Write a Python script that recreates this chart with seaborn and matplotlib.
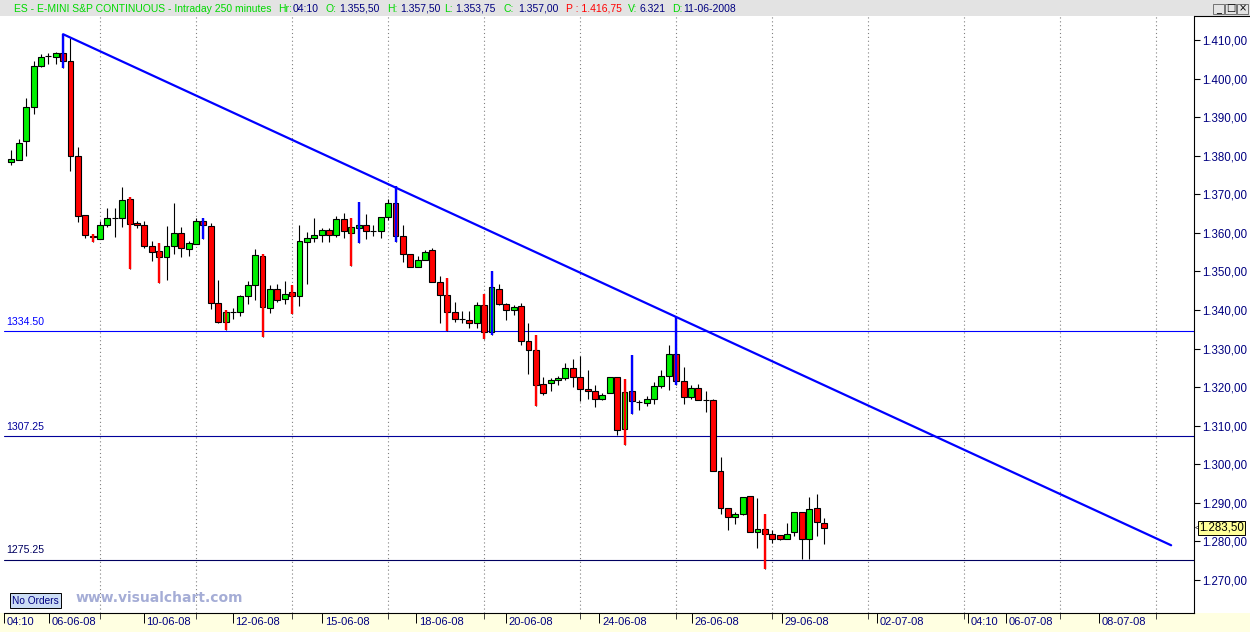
import numpy as np
import pandas as pd
import matplotlib
matplotlib.use("Agg")
import matplotlib.pyplot as plt
import seaborn as sns
from matplotlib.patches import Rectangle
from matplotlib.ticker import FuncFormatter
from matplotlib import font_manager as fm

# ---------------- data (250-minute candles, ES e-mini S&P) ----------------
opens = [1378.25, 1379.0, 1383.75, 1392.5, 1403.25, 1405.75, 1405.5, 1406.75, 1404.5, 1380.0,
         1364.5, 1359.25, 1358.5, 1362.0, 1363.75, 1363.75, 1368.75, 1362.5, 1362.0, 1356.5,
         1355.25, 1353.75, 1356.5, 1360.0, 1355.75, 1357.0, 1363.0, 1361.75, 1341.75, 1337.0,
         1339.5, 1339.5, 1343.75, 1346.5, 1354.0, 1340.5, 1345.5, 1342.75, 1344.75, 1343.75,
         1357.75, 1358.75, 1359.5, 1360.75, 1359.5, 1363.5, 1360.0, 1361.25, 1362.0, 1360.5,
         1360.5, 1364.0, 1367.75, 1359.25, 1354.5, 1351.25, 1353.0, 1355.5, 1347.25, 1344.0,
         1339.5, 1337.75, 1337.5, 1336.75, 1341.25, 1334.25, 1345.5, 1341.5, 1340.0, 1341.0,
         1332.0, 1329.75, 1320.75, 1321.0, 1321.75, 1322.25, 1325.0, 1322.5, 1319.5, 1319.0,
         1317.0, 1318.5, 1322.5, 1309.25, 1319.0, 1316.25, 1316.0, 1317.0, 1320.25, 1323.0,
         1328.5, 1321.5, 1317.5, 1319.75, 1316.75, 1316.75, 1298.25, 1288.75, 1286.25, 1287.0,
         1291.75, 1282.5, 1283.25, 1282.0, 1281.75, 1280.75, 1282.5, 1287.5, 1280.5, 1288.75,
         1284.75]
highs = [1381.5, 1384.25, 1395.0, 1404.5, 1406.25, 1406.5, 1407.0, 1411.5, 1410.5, 1382.25,
         1364.5, 1359.75, 1363.0, 1366.5, 1366.5, 1372.0, 1369.25, 1363.0, 1363.0, 1358.0,
         1357.25, 1361.75, 1367.75, 1361.5, 1358.0, 1363.75, 1363.75, 1362.5, 1347.75, 1340.0,
         1340.5, 1344.0, 1347.5, 1355.75, 1354.5, 1346.5, 1346.75, 1347.5, 1346.5, 1362.0,
         1360.25, 1363.75, 1361.25, 1361.25, 1364.25, 1365.25, 1363.75, 1368.0, 1365.0, 1362.0,
         1364.0, 1368.75, 1372.25, 1362.0, 1354.5, 1354.0, 1355.5, 1356.0, 1348.75, 1348.25,
         1342.0, 1339.75, 1339.75, 1342.0, 1344.25, 1350.0, 1346.75, 1341.75, 1341.25, 1341.75,
         1336.5, 1333.5, 1322.5, 1322.25, 1323.0, 1326.25, 1327.25, 1328.0, 1324.5, 1320.5,
         1318.5, 1322.75, 1322.75, 1322.0, 1328.25, 1316.75, 1317.75, 1321.25, 1324.5, 1331.0,
         1338.25, 1325.25, 1320.5, 1320.75, 1319.0, 1317.0, 1302.0, 1288.75, 1287.5, 1291.5,
         1291.75, 1291.25, 1287.0, 1283.0, 1281.75, 1284.75, 1287.5, 1287.5, 1291.5, 1292.25,
         1286.0]
lows = [1377.5, 1379.0, 1380.0, 1390.75, 1403.0, 1403.75, 1403.75, 1402.75, 1376.0, 1362.75,
        1358.75, 1357.5, 1358.5, 1361.5, 1359.0, 1361.5, 1350.5, 1361.25, 1356.0, 1352.75,
        1347.0, 1347.75, 1354.5, 1353.75, 1354.0, 1357.0, 1358.5, 1340.25, 1336.5, 1334.75,
        1337.75, 1338.5, 1341.5, 1342.5, 1333.0, 1339.25, 1342.0, 1341.5, 1339.0, 1341.0,
        1346.75, 1357.75, 1357.5, 1357.75, 1359.0, 1358.75, 1351.5, 1357.25, 1358.5, 1359.25,
        1358.75, 1363.25, 1357.5, 1352.5, 1351.25, 1351.25, 1353.0, 1347.25, 1336.75, 1334.5,
        1337.0, 1336.5, 1335.25, 1335.25, 1332.5, 1333.5, 1341.25, 1337.5, 1338.75, 1331.0,
        1323.5, 1315.0, 1318.0, 1319.0, 1320.5, 1321.75, 1320.0, 1316.5, 1317.0, 1314.75,
        1316.75, 1318.5, 1307.5, 1305.0, 1313.0, 1314.0, 1315.0, 1315.75, 1319.75, 1319.25,
        1320.5, 1315.5, 1317.0, 1316.75, 1313.5, 1298.25, 1287.0, 1283.0, 1284.5, 1286.75,
        1282.5, 1278.25, 1272.75, 1279.5, 1280.25, 1280.5, 1281.5, 1275.5, 1275.5, 1281.5,
        1279.25]
closes = [1379.25, 1383.25, 1392.5, 1403.25, 1405.5, 1405.75, 1406.5, 1404.5, 1380.0, 1364.25,
          1359.5, 1359.0, 1362.0, 1363.75, 1363.75, 1368.5, 1362.25, 1362.0, 1356.5, 1355.0,
          1353.75, 1356.5, 1360.0, 1356.0, 1357.25, 1363.0, 1362.0, 1341.75, 1337.0, 1339.5,
          1339.5, 1343.75, 1346.5, 1354.25, 1340.75, 1345.5, 1342.5, 1344.25, 1343.5, 1358.0,
          1358.75, 1359.5, 1360.75, 1359.5, 1363.5, 1360.5, 1361.5, 1362.0, 1360.5, 1360.5,
          1364.0, 1367.75, 1359.25, 1354.5, 1351.25, 1353.0, 1355.0, 1347.25, 1344.0, 1339.5,
          1337.75, 1337.75, 1336.5, 1341.25, 1334.25, 1346.0, 1341.5, 1340.0, 1340.75, 1332.0,
          1329.5, 1320.5, 1318.5, 1321.75, 1322.25, 1325.0, 1322.75, 1319.5, 1319.0, 1317.0,
          1318.0, 1322.5, 1309.0, 1318.75, 1316.5, 1316.25, 1317.0, 1320.25, 1323.0, 1328.5,
          1321.5, 1317.5, 1319.75, 1316.75, 1316.75, 1298.25, 1288.75, 1286.25, 1287.0, 1291.5,
          1282.5, 1283.25, 1282.0, 1280.5, 1280.75, 1282.0, 1287.5, 1280.5, 1288.5, 1285.0,
          1283.5]
# candles (0-based) whose wick is marked by the indicator
blue_signal = [7, 26, 47, 52, 65, 84, 90]
red_signal = [11, 16, 20, 29, 34, 38, 46, 59, 64, 71, 83, 102]

level_values = [1334.50, 1307.25, 1275.25]
level_labels = ["1334.50", "1307.25", "1275.25"]

trend_x = [7, 157]
trend_y = [1411.5, 1279.0]

date_labels = ["04:10", "06-06-08", "10-06-08", "12-06-08", "15-06-08", "18-06-08", "20-06-08",
               "24-06-08", "26-06-08", "29-06-08", "02-07-08", "04:10", "06-07-08", "08-07-08"]
date_pos = [-1.0, 5.15, 17.9, 30.0, 42.1, 54.8, 67.0, 79.6, 92.1, 104.3, 117.2, 129.5, 134.7, 147.2]
session_grid = list(range(12, 160, 13))

y_ticks = list(range(1270, 1411, 10))
last_price = 1283.50

header_parts = [("ES - E-MINI S&P CONTINUOUS - Intraday 250 minutes", "g", 14),
                ("Hr:", "g", 278), ("04:10", "n", 293),
                ("O:", "g", 325), ("1.355,50", "n", 339),
                ("H:", "g", 387), ("1.357,50", "n", 400),
                ("L:", "g", 444), ("1.353,75", "n", 455),
                ("C:", "g", 504), ("1.357,00", "n", 518),
                ("P : 1.416,75", "r", 566),
                ("V:", "g", 628), ("6.321", "n", 639),
                ("D:", "g", 672), ("11-06-2008", "n", 683)]

# ---------------- style ----------------
sns.set_theme(style="white")
plt.rcParams['font.family'] = ['Liberation Sans', 'DejaVu Sans']
names = {f.name for f in fm.fontManager.ttflist}
narrow = 'Liberation Sans Narrow' if 'Liberation Sans Narrow' in names else 'Liberation Sans'

W, H = 1250, 632
fig = plt.figure(figsize=(W / 100, H / 100), dpi=100)
fig.patch.set_facecolor('white')

def fx(px):
    return px / W

def fy(py):
    return 1 - py / H

L, R, T, B = 4, 1194, 16, 613
ax = fig.add_axes([fx(L), fy(B), fx(R - L), (B - T) / H])
ax.set_facecolor('white')

n = len(opens)
df = pd.DataFrame({"x": np.arange(n), "open": opens, "high": highs, "low": lows, "close": closes})
df["up"] = df["close"] >= df["open"]
df["bottom"] = df[["open", "close"]].min(axis=1)
df["height"] = (df["close"] - df["open"]).abs()

GREEN = '#00F000'
RED = '#FF0000'
BLUE = '#0000FF'
NAVY = '#000080'

# session grid
for g in session_grid:
    ax.axvline(g, color='#808080', lw=0.8, ls=(0, (1, 2.5)), zorder=0)

# horizontal levels
level_colors = ['#0000FF', '#000099', '#000060']
for v, lab, c in zip(level_values, level_labels, level_colors):
    ax.axhline(v, color=c, lw=0.8, zorder=1)
    ax.text(0.0015, v + 1.2, lab, transform=ax.get_yaxis_transform(), color=c,
            fontsize=7.6, ha='left', va='bottom', zorder=5)

# wicks and bodies
ax.vlines(df["x"], df["low"], df["high"], color='black', lw=0.8, zorder=2)
ax.bar(df["x"], df["height"], bottom=df["bottom"], width=0.8,
       color=np.where(df["up"], GREEN, RED), edgecolor='black', linewidth=0.8, zorder=3)
for idx, col in ((blue_signal, BLUE), (red_signal, RED)):
    sub = df.iloc[idx]
    ax.vlines(sub["x"], sub["low"], sub["high"], color=col, lw=1.7, zorder=4)

# trend line
sns.lineplot(x=trend_x, y=trend_y, ax=ax, color=BLUE, lw=1.6, zorder=6, legend=False)

ax.set_xlim((L - 9.3) / 7.4, (R - 9.3) / 7.4)
ax.set_ylim(1410 - (B - 40) / 3.857, 1410 + (40 - T) / 3.857)

# y axis on the right
ax.yaxis.tick_right()
ax.set_yticks(y_ticks)
ax.yaxis.set_major_formatter(FuncFormatter(
    lambda v, p: f"{v:,.2f}".replace(",", "X").replace(".", ",").replace("X", ".")))
ax.tick_params(axis='y', which='both', right=True, left=False, direction='out', length=4,
               width=0.8, color='black', labelcolor=NAVY, labelsize=8.3, pad=2)

# x axis
ax.set_xticks(date_pos)
ax.set_xticklabels([])
ax.set_xticks(session_grid, minor=True)
ax.tick_params(axis='x', which='major', bottom=True, direction='out', length=7, width=0.7,
               color='black')
ax.tick_params(axis='x', which='minor', bottom=True, direction='out', length=4, width=0.7,
               color='#404040')
for p, lab in zip(date_pos, date_labels):
    ax.text(p + 0.35, -0.006, lab, transform=ax.get_xaxis_transform(), ha='left', va='top',
            fontsize=8.0, family=[narrow, 'DejaVu Sans'], color=NAVY, clip_on=False)

for s in ['top', 'left']:
    ax.spines[s].set_visible(False)
for s in ['right', 'bottom']:
    ax.spines[s].set_visible(True)
    ax.spines[s].set_color('black')
    ax.spines[s].set_linewidth(0.8)
ax.grid(False)
ax.set_xlabel('')
ax.set_ylabel('')

# bottom strip
fig.patches.append(Rectangle((0, 0), 1, fy(B), transform=fig.transFigure,
                             facecolor='#FFFFE1', edgecolor='none', zorder=-5))
# header bar
fig.patches.append(Rectangle((0, fy(T)), 1, 1 - fy(T), transform=fig.transFigure,
                             facecolor='#E3E3E3', edgecolor='none', zorder=-5))
cmap = {"g": '#00D800', "n": NAVY, "r": RED}
for txt, c, px in header_parts:
    fig.text(fx(px), fy(8.5), txt, color=cmap[c], fontsize=7.5, ha='left', va='center')
# window buttons
for i, glyph in enumerate(["_", "□", "×"]):
    bx = 1213 + i * 12
    fig.patches.append(Rectangle((fx(bx), fy(14)), fx(11), 10 / H, transform=fig.transFigure,
                                 facecolor='#E3E3E3', edgecolor='#606060', lw=0.6))
    fig.text(fx(bx + 5.5), fy(8.5), glyph, color='black', fontsize=7, ha='center',
             va='center', family=['DejaVu Sans'])
# right axis frame top
fig.add_artist(plt.Line2D([fx(R), fx(W)], [fy(T), fy(T)], transform=fig.transFigure,
                          color='black', lw=0.8))

# last price marker
yl = ax.transData.transform((0, last_price))[1] / 100
fig.text(fx(1199), yl / (H / 100), f"{last_price:,.2f}".replace(",", "X").replace(".", ",").replace("X", "."),
         fontsize=8.3, color='black', ha='left', va='center',
         bbox=dict(boxstyle='square,pad=0.12', facecolor='#FFFF99', edgecolor='black', lw=0.7))
fig.text(fx(1195), yl / (H / 100), "<", fontsize=5.5, color='black', ha='left', va='center')

# No Orders box and watermark
fig.text(fx(12), fy(600.5), "No Orders", fontsize=7.3, color=NAVY, ha='left', va='center',
         bbox=dict(boxstyle='square,pad=0.2', facecolor='#CCDDF5', edgecolor='black', lw=0.7))
fig.text(fx(76), fy(598.5), "www.visualchart.com", fontsize=10, color='#A5ADD6',
         fontweight='bold', ha='left', va='center', family=['DejaVu Sans'])

fig.savefig("out.png", dpi=100, facecolor=fig.get_facecolor())
